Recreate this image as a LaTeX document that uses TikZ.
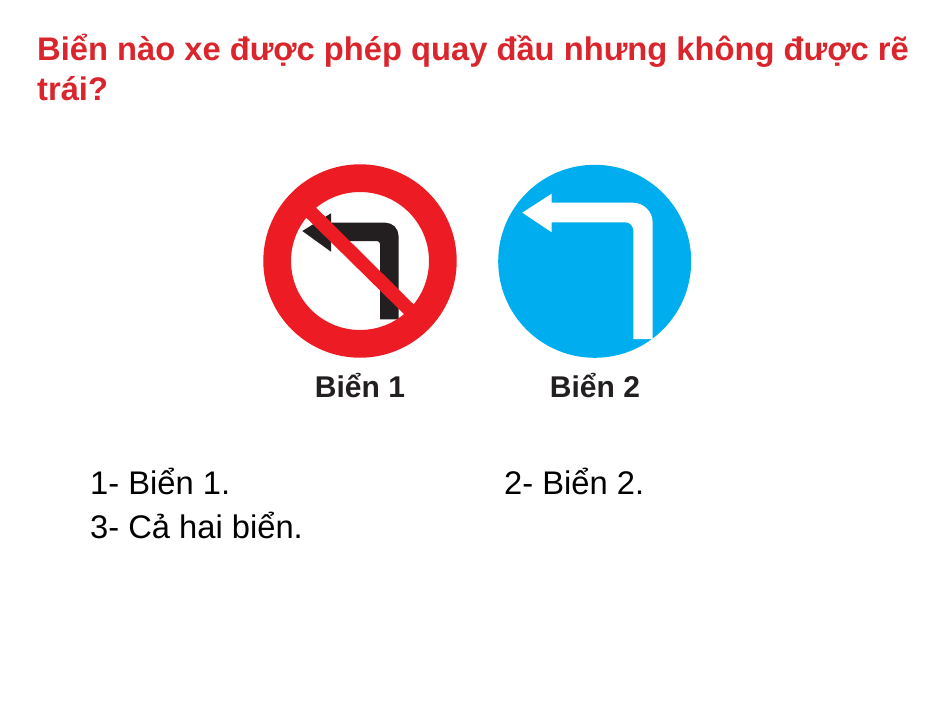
\documentclass[tikz,border=0pt]{standalone}
\usepackage{fontspec}
\setmainfont{Liberation Sans}
\definecolor{titlered}{RGB}{218,37,44}
\definecolor{signred}{RGB}{237,28,36}
\definecolor{signblue}{RGB}{0,174,239}
\definecolor{signblack}{RGB}{35,31,32}
\tikzset{
  title/.style={anchor=base west,inner sep=0pt,text=titlered,font=\fontsize{32.7}{36}\selectfont\bfseries},
  option/.style={anchor=base west,inner sep=0pt,text=black,font=\fontsize{32.7}{36}\selectfont},
  signlabel/.style={anchor=base,inner sep=0pt,text=signblack,font=\fontsize{30}{34}\selectfont\bfseries}
}
\begin{document}
\begin{tikzpicture}[x=1pt,y=-1pt]
\useasboundingbox[fill=white] (0,0) rectangle (945,709);
\node[title] (t1) at (37,60) {Biển nào xe được phép quay đầu nhưng không được rẽ};
\node[title] (t2) at (37,100) {trái?};
% sign 1
\fill[white] (360,261) circle (70);
\fill[signblack] (302.3,231) -- (331,213.3) -- (331,222.7) -- (385.5,222.7)
  arc[start angle=-90,end angle=0,radius=13] -- (398.5,319.3) -- (380,319.3)
  -- (380,244) arc[start angle=0,end angle=-90,radius=3] -- (331,241) -- (331,251.7) -- cycle;
\fill[signred] (311.7,203.3) -- (301.7,213.3) -- (408.3,318.3) -- (418.3,309) -- cycle;
\draw[signred,line width=27.7pt] (360,261) circle (82.85);
\node[signlabel] (l1) at (360,397) {Biển 1};
% sign 2
\fill[signblue] (594.7,261.3) circle (96.5);
\fill[white] (522.3,212.7) -- (551.7,193.7) -- (551.7,202.7) -- (632.7,202.7)
  arc[start angle=-90,end angle=0,radius=20] -- (652.7,339) -- (633.3,339)
  -- (633.3,230.3) arc[start angle=0,end angle=-90,radius=8] -- (551.7,222.3) -- (551.7,232.3) -- cycle;
\node[signlabel] (l2) at (595,397) {Biển 2};
% options
\node[option] (o1) at (90,494) {1- Biển 1.};
\node[option] (o2) at (504,494) {2- Biển 2.};
\node[option] (o3) at (90,538) {3- Cả hai biển.};
\end{tikzpicture}
\end{document}
